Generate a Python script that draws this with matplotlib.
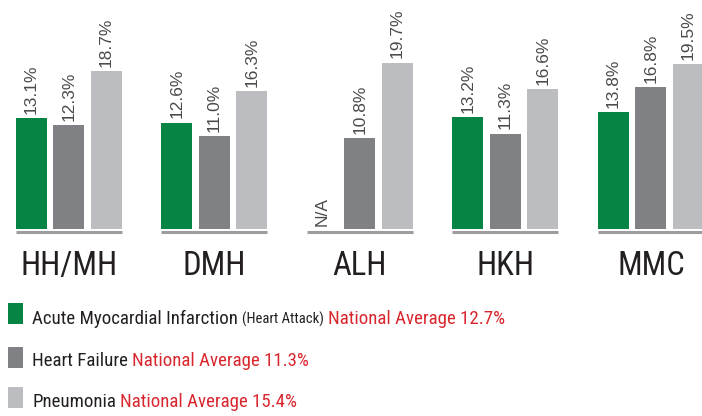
import matplotlib
matplotlib.use('Agg')
import matplotlib.pyplot as plt
from matplotlib.patches import Rectangle

hospitals = ['HH/MH', 'DMH', 'ALH', 'HKH', 'MMC']
heart_attack = [13.1, 12.6, None, 13.2, 13.8]
heart_failure = [12.3, 11.0, 10.8, 11.3, 16.8]
pneumonia = [18.7, 16.3, 19.7, 16.6, 19.5]
series_names = ['Acute Myocardial Infarction', 'Heart Failure', 'Pneumonia']
series_notes = ['(Heart Attack)', '', '']
national_avg = [12.7, 11.3, 15.4]
colors = ['#058444', '#808185', '#bcbdc1']

narrow = ['Roboto Condensed', 'Open Sans Condensed', 'DejaVu Sans']
plain = ['Liberation Sans', 'DejaVu Sans']
dark = '#231f20'
red = '#d9272e'

W, H = 702, 416
px = 8.45         # pixels per percent
base_px = 229     # baseline, pixels from top

fig = plt.figure(figsize=(W / 100, H / 100), dpi=100)
ax = fig.add_axes([0, 0, 1, 1])
ax.set_xlim(-0.474, 4.351)
ax.set_ylim(-(H - base_px) / px, base_px / px)
ax.axis('off')

width = 0.213
step = 0.258
series = [heart_attack, heart_failure, pneumonia]
cond = dict(family=narrow, fontstretch='condensed')

for i, name in enumerate(hospitals):
    for j, vals in enumerate(series):
        x = i + (j - 1) * step
        v = vals[i]
        if v is None:
            ax.annotate('N/A', (x, 0), xytext=(0, 2), textcoords='offset points',
                        rotation=90, ha='center', va='bottom', fontsize=12.5,
                        family=plain, color='#4a4a4c')
            continue
        ax.bar(x, v, width=width, color=colors[j], linewidth=0)
        ax.annotate(f'{v:.1f}%', (x, v), xytext=(0, 3), textcoords='offset points',
                    rotation=90, ha='center', va='bottom', fontsize=12.5,
                    family=plain, color='#4a4a4c')
    left = i - step - width / 2
    right = i + step + width / 2
    ax.plot([left, right], [-3 / px, -3 / px], color='#9d9d9f', lw=2.2,
            solid_capstyle='butt')
    ax.text(i, -46 / px, name, ha='center', va='baseline', fontsize=23.5,
            color=dark, **cond)

# legend
baselines = [324, 366, 407]
box_tops = [303, 347, 387]
for k in range(3):
    fig.patches.append(Rectangle((8 / W, 1 - (box_tops[k] + 21) / H), 15 / W, 21 / H,
                                 transform=fig.transFigure, color=colors[k], lw=0))
    yb = 1 - baselines[k] / H
    t = fig.text(32 / W, yb, series_names[k], ha='left', va='baseline',
                 fontsize=13.6, color=dark, **cond)
    if series_notes[k]:
        t = ax.annotate(series_notes[k], xy=(1, yb), xycoords=(t, 'figure fraction'),
                        xytext=(3, 0), textcoords='offset points', ha='left',
                        va='baseline', fontsize=10.5, color=dark, **cond)
    ax.annotate(f'National Average {national_avg[k]}%', xy=(1, yb),
                xycoords=(t, 'figure fraction'), xytext=(3, 0),
                textcoords='offset points', ha='left', va='baseline',
                fontsize=13.6, color=red, **cond)

fig.savefig('out.png', dpi=100)
